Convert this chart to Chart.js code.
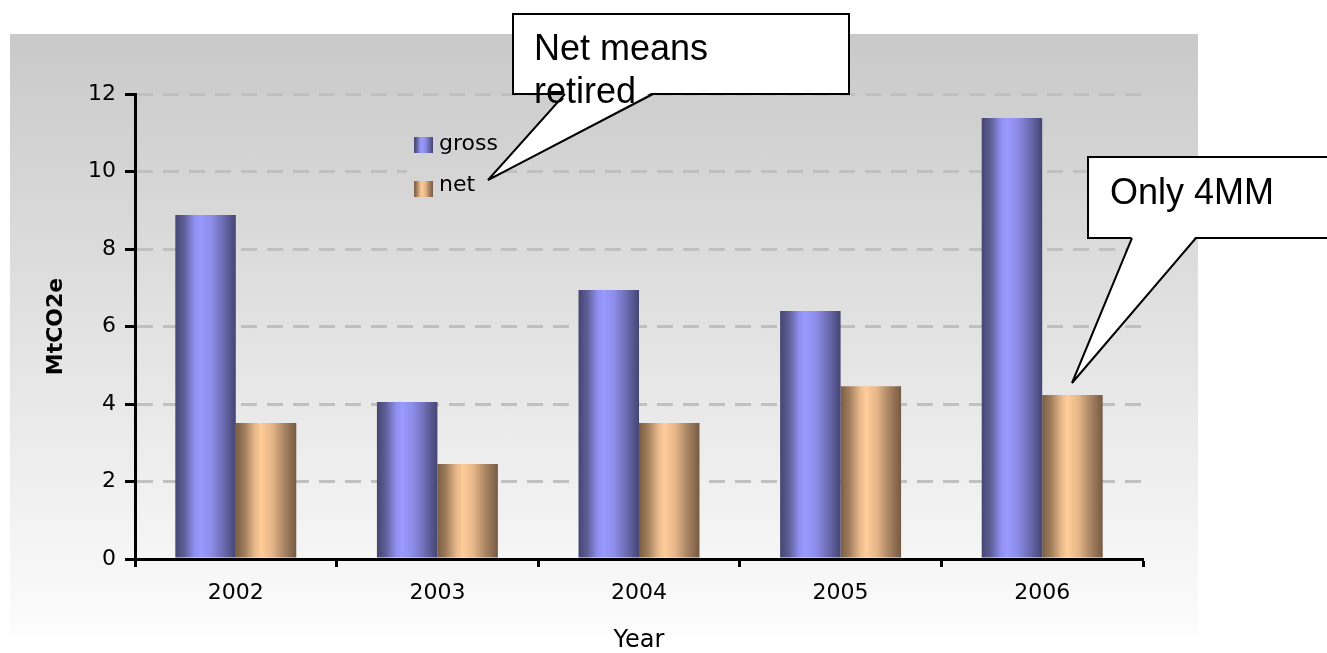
<!DOCTYPE html>
<html>
<head>
<meta charset="utf-8">
<script src="https://cdn.jsdelivr.net/npm/chart.js@4.4.0/dist/chart.umd.min.js"></script>
<style>
  html, body { margin: 0; padding: 0; background: #fff; }
  #wrap { position: relative; width: 1327px; height: 653px; overflow: hidden; }
  #bg { position: absolute; left: 10px; top: 34px; width: 1188px; height: 601px;
        background: linear-gradient(#c9c9c9, #fcfcfc); }
  #myChart, #over { position: absolute; left: 0; top: 0; }
  #over text { font-family: "Liberation Sans", Arial, sans-serif; fill: #000; }
  #over #legend text { font-family: "DejaVu Sans", sans-serif; }
</style>
</head>
<body>
<div id="wrap">
  <div id="bg"></div>
  <canvas id="myChart" width="1327" height="653"></canvas>
  <svg id="over" width="1327" height="653" xmlns="http://www.w3.org/2000/svg">
    <defs>
      <linearGradient id="shade0" x1="0" x2="1" y1="0" y2="0"></linearGradient>
      <linearGradient id="shade1" x1="0" x2="1" y1="0" y2="0"></linearGradient>
      <linearGradient id="bgShade" gradientUnits="userSpaceOnUse" x1="0" y1="34" x2="0" y2="635">
        <stop offset="0" stop-color="#c9c9c9"/>
        <stop offset="1" stop-color="#fcfcfc"/>
      </linearGradient>
    </defs>
    <g id="legend"></g>
    <!-- callout: Net means retired -->
    <rect x="513" y="14" width="336" height="80" fill="#fff" stroke="#000" stroke-width="2"/>
    <polygon points="565,92 488,180 653,92" fill="#fff"/>
    <polyline points="565,94 488,180 653,94" fill="none" stroke="#000" stroke-width="2"/>
    <text x="534" y="60" font-size="36">Net means</text>
    <text x="534" y="103" font-size="36">retired</text>
    <!-- callout: Only 4MM -->
    <rect x="1088" y="157" width="260" height="81" fill="#fff" stroke="#000" stroke-width="2"/>
    <polygon points="1132,236 1072,383 1196,236" fill="#fff"/>
    <polyline points="1132,238 1072,383 1196,238" fill="none" stroke="#000" stroke-width="2"/>
    <text x="1110" y="204" font-size="36">Only 4MM</text>
  </svg>
</div>
<script>
// 資料
const years = ['2002', '2003', '2004', '2005', '2006'];
const gross = [8.88, 4.05, 6.94, 6.4, 11.38];
const net = [3.51, 2.45, 3.51, 4.46, 4.23];
const seriesNames = ['gross', 'net'];

// 圓柱效果的漸層 (左暗 -> 中亮 -> 右暗)
const shades = [
  [[0, '#454572'], [0.15, '#5f5f98'], [0.32, '#9090f2'], [0.42, '#9999ff'], [0.6, '#8c8ce8'], [0.8, '#6a6ab0'], [1, '#454572']],
  [[0, '#7a5d43'], [0.15, '#a27f5e'], [0.32, '#e9b98b'], [0.42, '#ffcc99'], [0.6, '#e6b689'], [0.8, '#a88462'], [1, '#765a42']]
];

shades.forEach((st, i) => {
  const lg = document.getElementById('shade' + i);
  st.forEach(s => {
    const stop = document.createElementNS('http://www.w3.org/2000/svg', 'stop');
    stop.setAttribute('offset', s[0]);
    stop.setAttribute('stop-color', s[1]);
    lg.appendChild(stop);
  });
});

// 圖例 (自己畫在圖表裡面)
const legendG = document.getElementById('legend');
const svgNS = 'http://www.w3.org/2000/svg';
const lbg = document.createElementNS(svgNS, 'rect');
lbg.setAttribute('x', 407); lbg.setAttribute('y', 126);
lbg.setAttribute('width', 84); lbg.setAttribute('height', 80);
lbg.setAttribute('fill', 'url(#bgShade)');
legendG.appendChild(lbg);
seriesNames.forEach((name, i) => {
  const r = document.createElementNS(svgNS, 'rect');
  r.setAttribute('x', 414); r.setAttribute('y', 137 + i * 44);
  r.setAttribute('width', 19); r.setAttribute('height', 16);
  r.setAttribute('fill', 'url(#shade' + i + ')');
  legendG.appendChild(r);
  const t = document.createElementNS(svgNS, 'text');
  t.setAttribute('x', 439); t.setAttribute('y', 150 + i * 41);
  t.setAttribute('font-size', 22);
  t.textContent = name;
  legendG.appendChild(t);
});

// 每根柱子套上水平漸層
const barShade = {
  id: 'barShade',
  beforeDatasetsDraw(chart) {
    const ctx = chart.ctx;
    chart.data.datasets.forEach((ds, i) => {
      chart.getDatasetMeta(i).data.forEach(bar => {
        const x0 = bar.x - bar.width / 2;
        const g = ctx.createLinearGradient(x0, 0, x0 + bar.width, 0);
        shades[i].forEach(s => g.addColorStop(s[0], s[1]));
        bar.options = Object.assign({}, bar.options, { backgroundColor: g });
      });
    });
  }
};

Chart.defaults.font.family = '"DejaVu Sans", sans-serif';
Chart.defaults.color = '#000';

var canvas = document.getElementById('myChart');
var ctx = canvas.getContext('2d');
const myChart = new Chart(ctx, {
  type: 'bar',
  data: {
    labels: years,
    datasets: [
      { label: seriesNames[0], data: gross, backgroundColor: '#8888ee' },
      { label: seriesNames[1], data: net, backgroundColor: '#eebb88' }
    ]
  },
  options: {
    responsive: false,
    animation: false,
    devicePixelRatio: 1,
    categoryPercentage: 0.6,
    barPercentage: 1,
    layout: {
      padding: { left: 0, right: 184, top: 94, bottom: 0 }
    },
    plugins: {
      legend: { display: false },
      tooltip: { enabled: false }
    },
    scales: {
      x: {
        afterFit: s => { s.height = 94; },
        grid: {
          drawOnChartArea: false,
          drawTicks: true,
          tickLength: 8,
          tickWidth: 3,
          tickColor: '#000'
        },
        border: { display: true, color: '#000', width: 3 },
        ticks: { padding: 13, font: { size: 22 }, color: '#000' },
        title: {
          display: true,
          text: 'Year',
          font: { size: 24, lineHeight: 1 },
          padding: { top: 0, bottom: 0 },
          color: '#000'
        }
      },
      y: {
        min: 0,
        max: 12,
        afterFit: s => { s.width = 135; },
        grid: {
          color: c => (c.tick && c.tick.value === 0) ? 'rgba(0,0,0,0)' : '#c0c0c0',
          lineWidth: 3,
          tickLength: 10,
          tickWidth: 3,
          tickColor: '#000'
        },
        border: { display: true, color: '#000', width: 3, dash: [16, 10] },
        ticks: { stepSize: 2, padding: 9, font: { size: 22 }, color: '#000' },
        title: {
          display: true,
          text: 'MtCO2e',
          font: { size: 22, weight: 'bold' },
          padding: { top: 43, bottom: 0 },
          color: '#000'
        }
      }
    }
  },
  plugins: [barShade]
});
</script>
</body>
</html>
